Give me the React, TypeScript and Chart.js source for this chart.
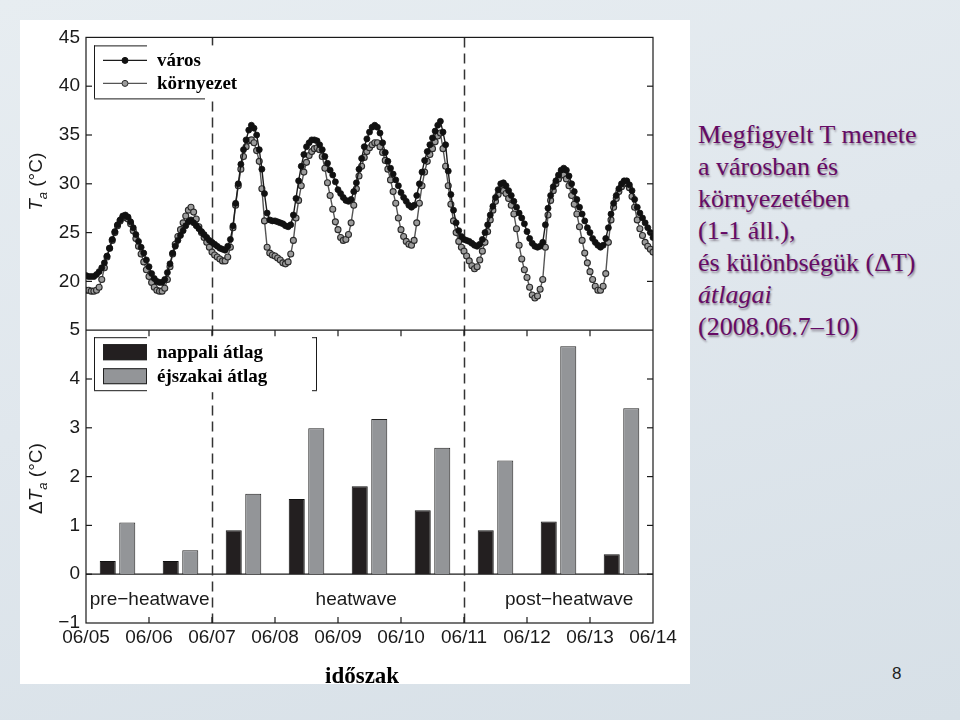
import React, { useEffect, useRef } from 'react';
import { Chart, registerables } from 'chart.js';

Chart.register(...registerables);

// ---------- data ----------
const dateLabels = ['06/05', '06/06', '06/07', '06/08', '06/09', '06/10', '06/11', '06/12', '06/13', '06/14'];
const hoursPerDay = 24;

// hourly air temperature, city station (°C), 06/05 00h .. 06/14 00h
const cityTemps = [
  20.6, 20.5, 20.5, 20.5, 20.7, 21.0, 21.4, 21.9, 22.6, 23.4, 24.3, 25.1, 25.8, 26.3, 26.7, 26.8, 26.6, 26.1, 25.5, 24.8, 24.1, 23.5, 22.9, 22.2,
  21.5, 20.8, 20.3, 20.0, 19.9, 19.9, 20.2, 20.9, 21.8, 22.9, 23.6, 24.2, 24.7, 25.2, 25.7, 26.1, 26.3, 26.0, 25.7, 25.4, 25.1, 24.8, 24.5, 24.2,
  24.0, 23.8, 23.6, 23.4, 23.3, 23.2, 23.6, 24.3, 25.7, 28.0, 30.0, 32.0, 33.5, 34.5, 35.5, 36.0, 35.7, 35.0, 33.5, 31.5, 29.0, 27.0, 26.3, 26.2,
  26.2, 26.1, 26.0, 25.9, 25.7, 25.6, 25.8, 26.8, 28.5, 30.3, 31.8, 33.0, 33.8, 34.2, 34.5, 34.5, 34.4, 34.0, 33.5, 32.8, 32.1, 31.4, 30.9, 30.2,
  29.4, 29.0, 28.6, 28.3, 28.2, 28.4, 29.2, 30.1, 31.5, 32.6, 33.8, 34.6, 35.3, 35.8, 36.0, 35.8, 35.2, 34.2, 33.2, 32.3, 31.6, 31.0, 30.4, 29.8,
  29.1, 28.6, 28.2, 27.8, 27.6, 27.8, 28.8, 30.0, 31.2, 32.4, 33.3, 34.0, 34.7, 35.4, 36.0, 36.4, 35.3, 34.0, 31.3, 28.9, 27.3, 26.0, 25.2, 24.6,
  24.3, 24.2, 24.1, 23.9, 23.7, 23.6, 23.8, 24.3, 25.0, 25.8, 26.8, 27.7, 28.6, 29.4, 30.0, 30.1, 29.8, 29.3, 28.8, 28.2, 27.6, 27.0, 26.5, 25.9,
  25.1, 24.4, 23.9, 23.6, 23.5, 23.6, 24.0, 25.8, 27.5, 28.8, 29.7, 30.3, 30.9, 31.4, 31.6, 31.4, 30.8, 30.0, 29.2, 28.4, 27.6, 26.9, 26.2, 25.5,
  25.0, 24.4, 24.0, 23.7, 23.5, 23.7, 24.4, 25.5, 26.9, 28.0, 28.8, 29.5, 30.0, 30.3, 30.3, 29.9, 29.3, 28.4, 27.6, 27.0, 26.5, 26.0, 25.5, 25.0,
  24.5,
];

// hourly air temperature, surrounding (rural) station (°C)
const envTemps = [
  19.1, 19.1, 19.0, 19.0, 19.1, 19.4, 20.2, 21.4, 22.5, 23.4, 24.2, 25.0, 25.7, 26.2, 26.5, 26.6, 26.4, 25.9, 25.2, 24.4, 23.6, 22.8, 22.0, 21.2,
  20.5, 19.9, 19.4, 19.1, 19.0, 19.0, 19.3, 20.2, 21.5, 22.8, 23.8, 24.6, 25.3, 26.0, 26.7, 27.3, 27.6, 27.1, 26.4, 25.6, 25.0, 24.5, 24.0, 23.5,
  23.0, 22.7, 22.5, 22.3, 22.1, 22.1, 22.5, 23.5, 25.5, 27.8, 29.8, 31.5, 32.8, 33.8, 34.4, 34.5, 34.2, 33.4, 32.3, 29.5, 26.2, 23.5, 22.9, 22.7,
  22.6, 22.4, 22.2, 21.9, 21.8, 22.0, 22.8, 24.2, 26.5, 28.3, 29.8, 31.2, 32.2, 32.9, 33.3, 33.6, 33.7, 33.5, 32.8, 31.6, 30.1, 28.8, 27.4, 26.1,
  25.3, 24.5, 24.2, 24.3, 24.8, 26.0, 27.8, 29.5, 30.8, 31.8, 32.7, 33.3, 33.7, 34.0, 34.2, 34.2, 33.8, 33.2, 32.4, 31.5, 30.4, 29.2, 28.0, 26.5,
  25.3, 24.6, 24.1, 23.8, 23.7, 24.2, 26.0, 28.0, 29.8, 31.2, 32.3, 33.0, 33.6, 34.3, 34.9, 35.2, 33.6, 31.8, 29.8, 27.9, 26.2, 25.0, 24.1, 23.5,
  23.1, 22.6, 22.1, 21.6, 21.3, 21.5, 22.2, 23.1, 24.0, 25.1, 26.3, 27.3, 28.2, 28.9, 29.4, 29.3, 29.0, 28.5, 27.8, 26.9, 25.4, 23.7, 22.3, 21.2,
  20.4, 19.4, 18.6, 18.3, 18.5, 19.2, 20.2, 23.5, 26.8, 28.3, 29.3, 30.0, 30.5, 30.9, 30.9, 30.5, 29.8, 28.8, 27.9, 26.9, 25.6, 24.2, 22.9, 21.9,
  21.0, 20.2, 19.5, 19.1, 19.1, 19.5, 20.8, 24.0, 26.3, 27.6, 28.5, 29.2, 29.7, 30.0, 30.1, 29.6, 28.7, 27.6, 26.3, 25.4, 24.7, 24.0, 23.6, 23.3,
  23.0,
];

// daily mean differences ΔTa (°C), one per day
const dayMeanDiff = [0.27, 0.27, 0.9, 1.54, 1.8, 1.31, 0.9, 1.08, 0.41];
const nightMeanDiff = [1.06, 0.49, 1.65, 2.99, 3.18, 2.59, 2.33, 4.67, 3.4];

const seriesNames = ['város', 'környezet'];
const barNames = ['nappali átlag', 'éjszakai átlag'];
const phaseBoundaries = [2, 6];
const phaseLabels = ['pre−heatwave', 'heatwave', 'post−heatwave'];
const phaseLabelDays = [0.06, 4.29, 7.67];

// ---------- styling ----------
const SANS = '"Liberation Sans", Arial, Helvetica, sans-serif';
const SERIF = '"Liberation Serif", "Times New Roman", Times, serif';
const INK = '#1a1a1a';

function seg(ctx: CanvasRenderingContext2D, x1: number, y1: number, x2: number, y2: number) {
  ctx.beginPath();
  ctx.moveTo(x1, y1);
  ctx.lineTo(x2, y2);
  ctx.stroke();
}

function drawYTitle(ctx: CanvasRenderingContext2D, cx: number, cy: number, prefix: string) {
  ctx.save();
  ctx.translate(cx, cy);
  ctx.rotate(-Math.PI / 2);
  ctx.fillStyle = INK;
  ctx.textBaseline = 'alphabetic';
  ctx.textAlign = 'left';
  const big = `19px ${SANS}`;
  const bigIt = `italic 19px ${SANS}`;
  const small = `italic 13px ${SANS}`;
  const parts: [string, string, number][] = [];
  if (prefix) parts.push([prefix, big, 0]);
  parts.push(['T', bigIt, 0]);
  parts.push(['a', small, 5]);
  parts.push([' (°C)', big, 0]);
  let total = 0;
  const widths = parts.map(([t, f]) => {
    ctx.font = f;
    const w = ctx.measureText(t).width;
    total += w;
    return w;
  });
  let x = -total / 2;
  parts.forEach(([t, f, dy], i) => {
    ctx.font = f;
    ctx.fillText(t, x, 7 + dy);
    x += widths[i];
  });
  ctx.restore();
}

const decorPlugin = {
  id: 'decor',
  beforeDatasetsDraw(chart: any) {
    const { ctx, chartArea: a, scales } = chart;
    const xs = scales.x;
    const yB = scales.yB;
    ctx.save();
    ctx.strokeStyle = INK;
    ctx.lineWidth = 1.2;
    const y0 = yB.getPixelForValue(0);
    seg(ctx, a.left, y0, a.right, y0);
    ctx.setLineDash([10, 6]);
    ctx.strokeStyle = '#333';
    ctx.lineWidth = 1.5;
    phaseBoundaries.forEach((d) => {
      const px = Math.round(xs.getPixelForValue(d)) + 0.5;
      seg(ctx, px, a.top, px, a.bottom);
    });
    ctx.restore();
  },
  afterDatasetsDraw(chart: any) {
    const { ctx, chartArea: a, scales } = chart;
    const xs = scales.x;
    const yB = scales.yB;
    const yT = scales.yT;
    const mid = yB.top;
    ctx.save();

    // frame
    ctx.strokeStyle = INK;
    ctx.lineWidth = 1.2;
    ctx.setLineDash([]);
    ctx.strokeRect(a.left, a.top, a.right - a.left, a.bottom - a.top);
    seg(ctx, a.left, mid, a.right, mid);

    // inward ticks
    const tl = 6;
    yT.ticks.forEach((t: any) => {
      if (t.value <= yT.min || t.value >= yT.max) return;
      const p = yT.getPixelForValue(t.value);
      seg(ctx, a.left, p, a.left + tl, p);
      seg(ctx, a.right - tl, p, a.right, p);
    });
    yB.ticks.forEach((t: any) => {
      if (t.value <= yB.min || t.value >= yB.max) return;
      const p = yB.getPixelForValue(t.value);
      seg(ctx, a.left, p, a.left + tl, p);
      seg(ctx, a.right - tl, p, a.right, p);
    });
    xs.ticks.forEach((t: any) => {
      if (t.value <= xs.min || t.value >= xs.max) return;
      const p = xs.getPixelForValue(t.value);
      seg(ctx, p, a.bottom, p, a.bottom - tl);
      seg(ctx, p, mid, p, mid + tl);
    });

    // phase labels
    ctx.fillStyle = INK;
    ctx.font = `19px ${SANS}`;
    ctx.textBaseline = 'middle';
    const ly = yB.getPixelForValue(-0.53);
    phaseLabels.forEach((txt, i) => {
      ctx.textAlign = i === 0 ? 'left' : 'center';
      ctx.fillText(txt, xs.getPixelForValue(phaseLabelDays[i]), ly);
    });

    // top legend
    const L = a.left + 8;
    const T = a.top + 8;
    ctx.fillStyle = '#ffffff';
    ctx.fillRect(L, T, 124, 53);
    ctx.strokeStyle = INK;
    ctx.lineWidth = 1;
    seg(ctx, L + 0.5, T, L + 0.5, T + 53);
    seg(ctx, L, T + 0.5, L + 53, T + 0.5);
    seg(ctx, L, T + 53.5, L + 111, T + 53.5);
    const rows = [T + 15, T + 38];
    rows.forEach((ry, i) => {
      ctx.strokeStyle = i === 0 ? '#1c1c1c' : '#555';
      ctx.lineWidth = 1.3;
      seg(ctx, L + 9, ry, L + 53, ry);
      ctx.beginPath();
      ctx.arc(L + 31, ry, 3, 0, Math.PI * 2);
      ctx.fillStyle = i === 0 ? '#111' : '#9b9b9b';
      ctx.fill();
      ctx.strokeStyle = i === 0 ? '#111' : '#2b2b2b';
      ctx.lineWidth = 1;
      ctx.stroke();
      ctx.fillStyle = '#000';
      ctx.font = `bold 19px ${SERIF}`;
      ctx.textAlign = 'left';
      ctx.textBaseline = 'middle';
      ctx.fillText(seriesNames[i], L + 63, ry + 1);
    });

    // bottom legend
    const BT = mid + 7;
    const BR = L + 223;
    ctx.fillStyle = '#ffffff';
    ctx.fillRect(L, BT, 223, 55);
    ctx.strokeStyle = INK;
    ctx.lineWidth = 1;
    seg(ctx, L + 0.5, BT, L + 0.5, BT + 53);
    seg(ctx, L, BT + 0.5, L + 53, BT + 0.5);
    seg(ctx, L, BT + 53.5, L + 53, BT + 53.5);
    seg(ctx, BR - 0.5, BT, BR - 0.5, BT + 53);
    seg(ctx, BR - 5, BT + 0.5, BR, BT + 0.5);
    seg(ctx, BR - 5, BT + 53.5, BR, BT + 53.5);
    const fills = ['#231f20', '#939598'];
    [BT + 7, BT + 31].forEach((ry, i) => {
      ctx.fillStyle = fills[i];
      ctx.fillRect(L + 9, ry, 44, 16);
      ctx.strokeStyle = '#222';
      ctx.strokeRect(L + 9.5, ry + 0.5, 43, 15);
      ctx.fillStyle = '#000';
      ctx.font = `bold 19px ${SERIF}`;
      ctx.textAlign = 'left';
      ctx.textBaseline = 'middle';
      ctx.fillText(barNames[i], L + 63, ry + 9);
    });

    // axis titles
    drawYTitle(ctx, 15, (yT.top + yT.bottom) / 2 - 2, '');
    drawYTitle(ctx, 15, (yB.top + yB.bottom) / 2 + 2, 'Δ');

    ctx.restore();
  },
};

export default function App() {
  const canvasRef = useRef<HTMLCanvasElement>(null);

  useEffect(() => {
    const canvas = canvasRef.current;
    if (!canvas) return;
    const tickFont = { family: SANS, size: 19 };
    const chart = new Chart(canvas, {
      type: 'line',
      data: {
        datasets: [
          {
            type: 'line',
            label: seriesNames[0],
            data: cityTemps.map((v, i) => ({ x: i / hoursPerDay, y: v })),
            xAxisID: 'x',
            yAxisID: 'yT',
            borderColor: '#1c1c1c',
            borderWidth: 1.4,
            pointRadius: 3,
            pointBackgroundColor: '#111',
            pointBorderColor: '#111',
            pointBorderWidth: 0.8,
            tension: 0,
          },
          {
            type: 'line',
            label: seriesNames[1],
            data: envTemps.map((v, i) => ({ x: i / hoursPerDay, y: v })),
            xAxisID: 'x',
            yAxisID: 'yT',
            borderColor: '#555',
            borderWidth: 1.4,
            pointRadius: 3,
            pointBackgroundColor: '#9b9b9b',
            pointBorderColor: '#2b2b2b',
            pointBorderWidth: 1.1,
            tension: 0,
          },
          {
            type: 'bar',
            label: barNames[0],
            data: dayMeanDiff.map((v, i) => ({ x: i + 0.5, y: v })),
            xAxisID: 'x',
            yAxisID: 'yB',
            backgroundColor: '#231f20',
            borderColor: '#111',
            borderWidth: 1,
            categoryPercentage: 0.62,
            barPercentage: 0.82,
          },
          {
            type: 'bar',
            label: barNames[1],
            data: nightMeanDiff.map((v, i) => ({ x: i + 0.5, y: v })),
            xAxisID: 'x',
            yAxisID: 'yB',
            backgroundColor: '#939598',
            borderColor: '#222',
            borderWidth: 1,
            categoryPercentage: 0.62,
            barPercentage: 0.82,
          },
        ] as any,
      },
      options: {
        responsive: false,
        animation: false,
        events: [],
        layout: { padding: { left: 0, right: 37, top: 15, bottom: 0 } },
        plugins: { legend: { display: false }, tooltip: { enabled: false } },
        scales: {
          x: {
            type: 'linear',
            min: 0,
            max: 9,
            offset: false,
            grid: { display: false, drawTicks: false },
            border: { display: false },
            ticks: {
              stepSize: 1,
              autoSkip: false,
              maxRotation: 0,
              padding: 3,
              color: INK,
              font: tickFont,
              callback: (v: any) => dateLabels[Math.round(Number(v))] ?? '',
            },
            afterFit: (s: any) => {
              s.height = 61;
            },
          },
          yB: {
            type: 'linear',
            position: 'left',
            stack: 'panels',
            stackWeight: 1,
            min: -1,
            max: 5,
            grid: { display: false, drawTicks: false },
            border: { display: false },
            ticks: {
              stepSize: 1,
              padding: 6,
              color: INK,
              font: tickFont,
              callback: (v: any) => (Number(v) < 0 ? '−' + Math.abs(Number(v)) : String(v)),
            },
            afterFit: (s: any) => {
              s.width = 66;
            },
          },
          yT: {
            type: 'linear',
            position: 'left',
            stack: 'panels',
            stackWeight: 1,
            min: 15,
            max: 45,
            grid: { display: false, drawTicks: false },
            border: { display: false },
            ticks: {
              stepSize: 5,
              padding: 6,
              color: INK,
              font: tickFont,
              callback: (v: any) => (Number(v) === 15 ? '' : String(v)),
            },
            afterFit: (s: any) => {
              s.width = 66;
            },
          },
        },
      } as any,
      plugins: [decorPlugin],
    });
    return () => chart.destroy();
  }, []);

  return (
    <div
      style={{
        position: 'fixed',
        left: 0,
        top: 0,
        width: 960,
        height: 720,
        overflow: 'hidden',
        background: 'linear-gradient(165deg, #e7edf1 0%, #e0e7ed 45%, #d7e0e7 100%)',
      }}
    >
      <div style={{ position: 'absolute', left: 20, top: 20, width: 670, height: 664, background: '#ffffff' }}>
        <canvas ref={canvasRef} width={670} height={664} style={{ display: 'block', width: 670, height: 664 }} />
      </div>
      <div
        style={{
          position: 'absolute',
          left: 325,
          top: 662,
          font: `bold 23px ${SERIF}`,
          color: '#000',
          lineHeight: '28px',
        }}
      >
        időszak
      </div>
      <div
        style={{
          position: 'absolute',
          left: 698,
          top: 119,
          font: `26px ${SERIF}`,
          lineHeight: '32px',
          color: '#650b65',
          textShadow: '1px 2px 2px rgba(40,20,40,0.45)',
          whiteSpace: 'nowrap',
        }}
      >
        <div>Megfigyelt T menete</div>
        <div>a városban és</div>
        <div>környezetében</div>
        <div>(1-1 áll.),</div>
        <div>és különbségük (ΔT)</div>
        <div style={{ fontStyle: 'italic' }}>átlagai</div>
        <div>(2008.06.7–10)</div>
      </div>
      <div style={{ position: 'absolute', left: 892, top: 664, font: `17px ${SANS}`, color: '#222' }}>8</div>
    </div>
  );
}
